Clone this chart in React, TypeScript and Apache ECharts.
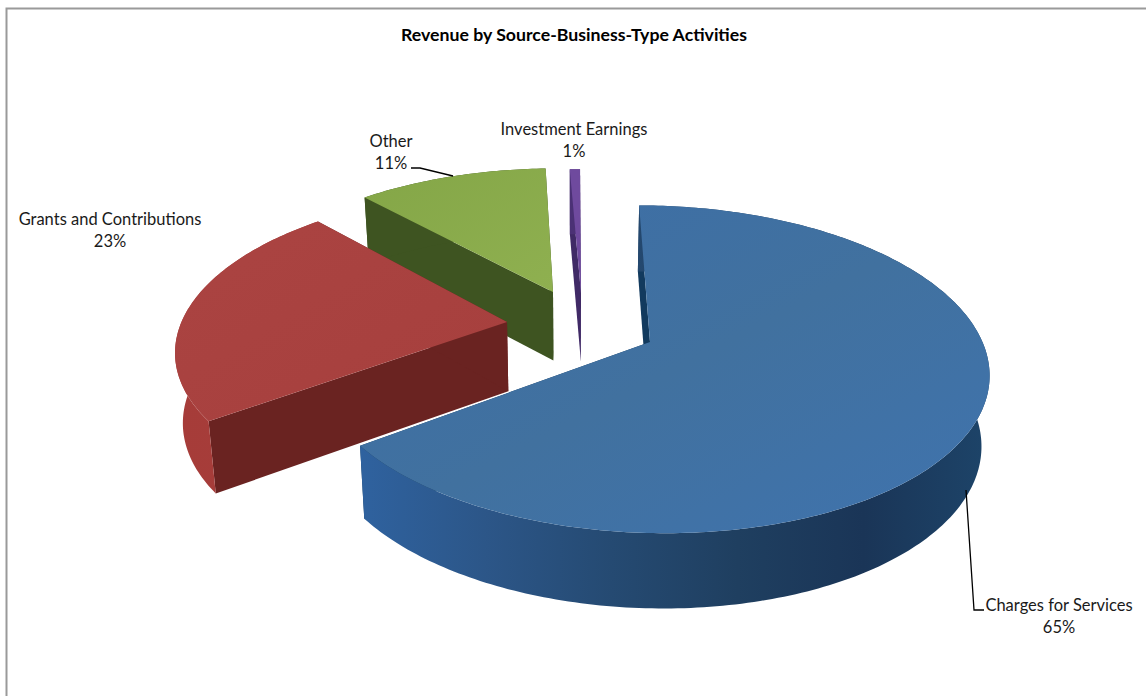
import React, { useEffect, useRef } from "react";
import * as echarts from "echarts";

const TITLE = "Revenue by Source-Business-Type Activities";
const categories = ["Charges for Services", "Grants and Contributions", "Other", "Investment Earnings"];
const seriesValues = [65.0, 23.2, 11.2, 0.6];
const drawOrder = [3, 2, 1, 0];

// projection of the pie plane onto the screen
const VIEW = { ox: 574, oy: 332, radius: 329, rs: 156, k: 0.165, depth: 70, shrink: 0.02, vy: 345 };
const APEX = [[650, 342], [507, 322], [553, 292], [581, 293]];
const LABEL_POS = [[1059, 605], [110, 219], [391, 141], [574, 129]];
const LEADERS = [
  [[966, 490], [974, 610], [984, 610]],
  null,
  [[411, 168], [420, 168], [453, 176]],
  null,
];
const grad = (stops: string[], x2 = 1, y2 = 0) =>
  new echarts.graphic.LinearGradient(0, 0, x2, y2, stops.map((c, i) => ({ offset: i / (stops.length - 1), color: c })));
const FACE = [
  {
    top: grad(["#3c6ea8", "#41719f", "#3f73ae"], 1, 1),
    wall: grad(["#2f629f", "#2c5688", "#254a72", "#1f3f60", "#1a3557", "#1d4469"]),
    radial: "#123a5e",
  },
  { top: grad(["#ab4442", "#a63f3d"], 1, 1), wall: grad(["#a63c39", "#a63d3a", "#98332f"]), radial: "#6a2321" },
  { top: grad(["#84a647", "#8fb050"], 1, 1), wall: "#3e5421", radial: "#3e5421" },
  { top: "#6f4a9e", wall: "#4b3175", radial: "#402a66" },
];

function project(X: number, Y: number) {
  const eta = Y / VIEW.radius;
  const w = 1 - VIEW.k * eta;
  return [VIEW.ox + X / w, VIEW.oy + (VIEW.rs * eta) / w];
}
function unproject(sx: number, sy: number) {
  const yp = sy - VIEW.oy;
  const eta = yp / (VIEW.rs + VIEW.k * yp);
  return [(sx - VIEW.ox) * (1 - VIEW.k * eta), eta * VIEW.radius];
}
function drop(p: number[]) {
  const s = 1 + VIEW.shrink;
  const d = VIEW.depth * (1 + (p[1] - VIEW.vy) * 0.0004);
  return [VIEW.ox + (p[0] - VIEW.ox) / s, p[1] + d];
}

function renderItem(params: any) {
  const i = drawOrder[params.dataIndex];
  const total = seriesValues.reduce((a, b) => a + b, 0);
  const before = seriesValues.slice(0, i).reduce((a, b) => a + b, 0);
  const a0 = (before / total) * Math.PI * 2;
  const a1 = ((before + seriesValues[i]) / total) * Math.PI * 2;
  const [cx, cy] = unproject(APEX[i][0], APEX[i][1]);
  const arc: number[][] = [];
  const n = Math.max(4, Math.ceil((a1 - a0) * 60));
  for (let j = 0; j <= n; j++) {
    const t = a0 + ((a1 - a0) * j) / n;
    arc.push(project(cx + VIEW.radius * Math.sin(t), cy - VIEW.radius * Math.cos(t)));
  }
  const apex = project(cx, cy);
  const wallPts = [...arc, ...arc.map(drop).reverse()];
  const r0 = [apex, arc[0], drop(arc[0]), drop(apex)];
  const r1 = [apex, arc[n], drop(arc[n]), drop(apex)];
  const f = FACE[i];
  const poly = (points: number[][], fill: any) => ({
    type: "polygon",
    shape: { points },
    style: { fill, stroke: null },
  });
  const children: any[] = [
    poly(r0, f.radial),
    poly(r1, f.radial),
    poly(wallPts, f.wall),
    poly([apex, ...arc], f.top),
  ];
  const [lx, ly] = LABEL_POS[i];
  const font = { fontFamily: "Lato", fontSize: 16.5, fill: "#1a1a1a", align: "center", verticalAlign: "middle" };
  children.push({ type: "text", style: { ...font, x: lx, y: ly, text: categories[i] } });
  children.push({
    type: "text",
    style: { ...font, x: lx, y: ly + 22, text: `${Math.round((seriesValues[i] / total) * 100)}%` },
  });
  const leader = LEADERS[i];
  if (leader) {
    children.push({
      type: "polyline",
      shape: { points: leader },
      style: { fill: null, stroke: "#000", lineWidth: 1.3 },
    });
  }
  return { type: "group", children };
}

export default function App() {
  const ref = useRef<HTMLDivElement>(null);
  useEffect(() => {
    const chart = echarts.init(ref.current!, null, { renderer: "svg" });
    chart.setOption({
      animation: false,
      backgroundColor: "#fff",
      title: {
        text: TITLE,
        left: 569,
        top: 20,
        textAlign: "center",
        textStyle: { fontFamily: "Lato", fontSize: 17.7, fontWeight: "bold", color: "#000" },
      },
      graphic: [
        {
          type: "polyline",
          silent: true,
          shape: { points: [[6.5, 696], [6.5, 8.5], [1146, 8.5]] },
          style: { fill: null, stroke: "#9a9a9a", lineWidth: 2 },
        },
      ],
      series: [
        {
          type: "custom",
          coordinateSystem: "none",
          renderItem,
          data: drawOrder.map((i) => ({ name: categories[i], value: seriesValues[i] })),
        },
      ],
    });
    return () => chart.dispose();
  }, []);
  return <div ref={ref} style={{ position: "fixed", left: 0, top: 0, width: 1146, height: 696 }} />;
}
